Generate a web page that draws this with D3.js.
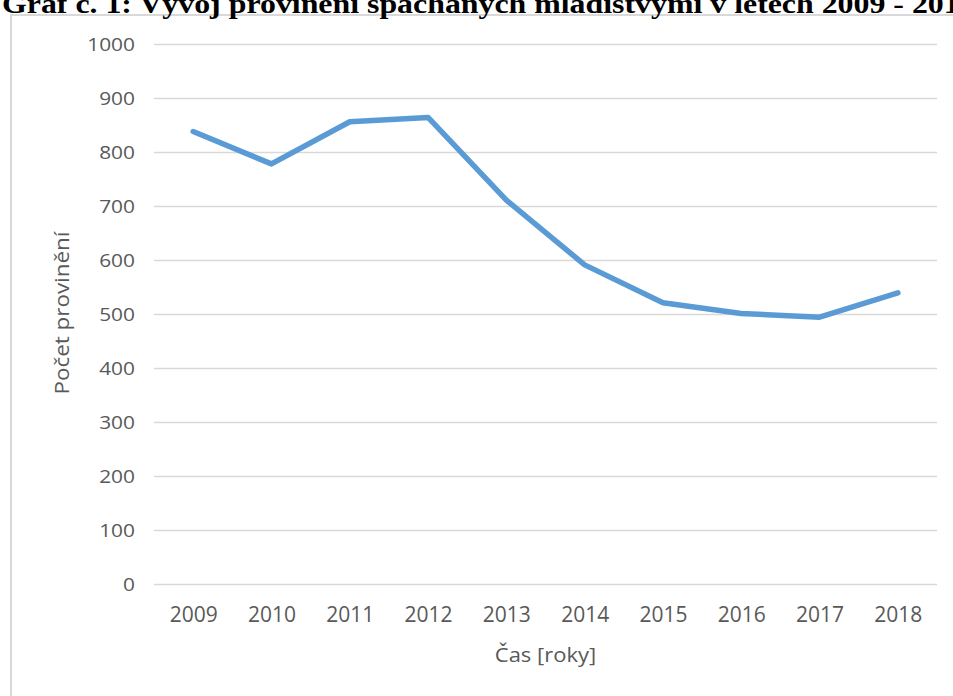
<!DOCTYPE html>
<html>
<head>
<meta charset="utf-8">
<script src="https://cdn.jsdelivr.net/npm/d3@7"></script>
<style>
  body { margin: 0; background: #fff; }
  svg { display: block; }
</style>
</head>
<body>
<svg id="chart" width="953" height="696"></svg>
<script>
// data
var years = ["2009", "2010", "2011", "2012", "2013", "2014", "2015", "2016", "2017", "2018"];
var counts = [838, 778, 856, 864, 711, 591, 521, 501, 494, 539];
var yTicks = [0, 100, 200, 300, 400, 500, 600, 700, 800, 900, 1000];

var title = "Graf č. 1: Vývoj provinění spáchaných mladistvými v letech 2009 - 2018";
var xTitle = "Čas [roky]";
var yTitle = "Počet provinění";

var svg = d3.select("#chart");
var plotLeft = 154, plotRight = 937, plotTop = 44, plotBottom = 584;
var textColor = "#595959";

// chart frame
svg.append("rect")
    .attr("x", 11).attr("y", 15)
    .attr("width", 1000).attr("height", 800)
    .attr("fill", "#fff")
    .attr("stroke", "#d9d9d9")
    .attr("stroke-width", 2);

// title (cut off at top of page)
svg.append("text")
    .attr("transform", "translate(2,12.5) scale(1.18,1)")
    .attr("font-family", "Liberation Serif")
    .attr("font-weight", "bold")
    .attr("font-size", 27)
    .attr("fill", "#000")
    .text(title);

var x = d3.scalePoint().domain(years).range([plotLeft, plotRight]).padding(0.5);
var y = d3.scaleLinear().domain([0, 1000]).range([plotBottom, plotTop]);

// y axis + gridlines
var gy = svg.append("g")
    .attr("transform", "translate(" + plotLeft + ",0)")
    .call(d3.axisLeft(y).tickValues(yTicks).tickSize(-(plotRight - plotLeft)).tickFormat(d3.format("d")));
gy.select(".domain").remove();
gy.selectAll(".tick line")
    .attr("stroke", "#d9d9d9")
    .attr("stroke-width", 1.5);
gy.selectAll(".tick text")
    .attr("x", null).attr("dy", null)
    .attr("transform", "translate(-19,6.5) scale(1.16,1)")
    .attr("font-family", "Open Sans")
    .attr("font-size", 18)
    .attr("fill", textColor);

// x axis
var gx = svg.append("g")
    .attr("transform", "translate(0," + plotBottom + ")")
    .call(d3.axisBottom(x).tickSize(0));
gx.select(".domain").remove();
gx.selectAll(".tick text")
    .attr("y", 38).attr("dy", null)
    .attr("font-family", "Open Sans")
    .attr("font-size", 21)
    .attr("fill", textColor);

// axis titles
svg.append("text")
    .attr("transform", "translate(" + ((plotLeft + plotRight) / 2) + ",662) scale(1.1,1)")
    .attr("text-anchor", "middle")
    .attr("font-family", "Open Sans")
    .attr("font-size", 20)
    .attr("fill", textColor)
    .text(xTitle);

svg.append("text")
    .attr("transform", "translate(69,313) rotate(-90) scale(1.12,1)")
    .attr("text-anchor", "middle")
    .attr("font-family", "Open Sans")
    .attr("font-size", 20)
    .attr("fill", textColor)
    .text(yTitle);

// line
var line = d3.line()
    .x(function (d, i) { return x(years[i]); })
    .y(function (d) { return y(d); });

svg.append("path")
    .datum(counts)
    .attr("d", line)
    .attr("fill", "none")
    .attr("stroke", "#5b9bd5")
    .attr("stroke-width", 5.5)
    .attr("stroke-linejoin", "round")
    .attr("stroke-linecap", "round");
</script>
</body>
</html>
